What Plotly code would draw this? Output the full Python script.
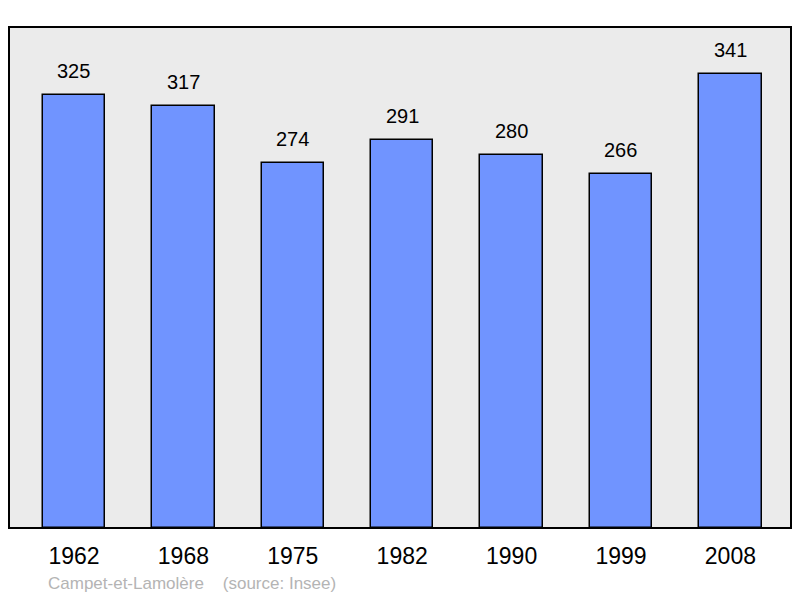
import plotly.graph_objects as go

years = ["1962", "1968", "1975", "1982", "1990", "1999", "2008"]
population = [325, 317, 274, 291, 280, 266, 341]
footer = "Campet-et-Lamolère    (source: Insee)"

xs = list(range(len(years)))

# page body has an 8px margin; figure is sized/offset to compensate
W, H = 792, 590
ML, MR, MT, MB = 1, 9, 19, 70
PW, PH = W - ML - MR, H - MT - MB

fig = go.Figure()
fig.add_trace(go.Bar(
    x=xs, y=population, width=0.57,
    marker=dict(color="#7094ff", line=dict(color="black", width=1.5)),
    hoverinfo="skip",
))

for x, v in zip(xs, population):
    fig.add_annotation(x=x, y=v, text=str(v), showarrow=False,
                       yanchor="bottom", yshift=11,
                       font=dict(family="Liberation Sans, Arial", size=20, color="black"))

fig.add_annotation(xref="paper", yref="paper", x=(38 - ML) / PW, y=-(575 - (MT + PH)) / PH,
                   xanchor="left", yanchor="middle", text=footer, showarrow=False,
                   font=dict(family="Liberation Sans, Arial", size=17, color="#b4b4b4"))

fig.add_shape(type="rect", xref="paper", yref="paper", x0=0, y0=0, x1=1, y1=1,
              line=dict(color="black", width=2), layer="above")

fig.update_layout(
    width=W, height=H,
    margin=dict(l=ML, r=MR, t=MT, b=MB),
    paper_bgcolor="white", plot_bgcolor="#ebebeb",
    showlegend=False,
    bargap=0,
    xaxis=dict(range=[-0.594, 6.554], tickvals=xs, ticktext=years,
               showgrid=False, zeroline=False, showline=False, ticks="",
               tickfont=dict(family="Liberation Sans, Arial", size=23, color="black"),
               ticklabelstandoff=12, fixedrange=True),
    yaxis=dict(range=[0, 376], showgrid=False, zeroline=False, showticklabels=False,
               ticks="", showline=False, fixedrange=True),
)

fig.write_html("out.html")
